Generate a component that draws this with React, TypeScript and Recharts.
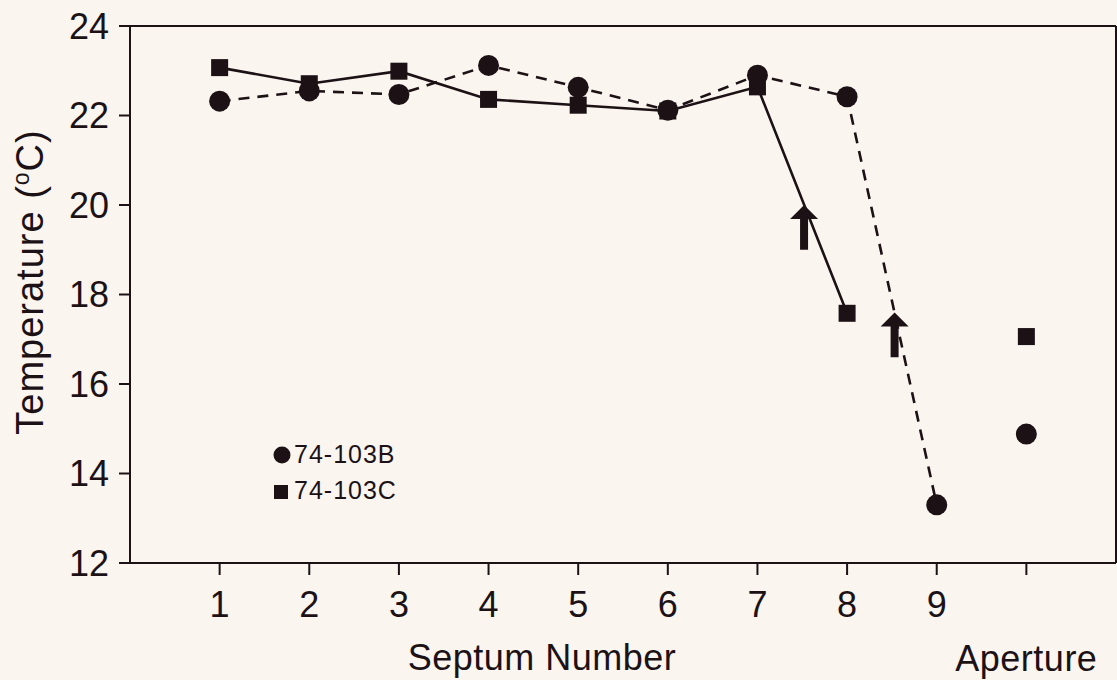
import React from 'react';
import { ComposedChart, Line, Scatter, XAxis, YAxis, ReferenceLine, Legend } from 'recharts';

const septa = [1, 2, 3, 4, 5, 6, 7, 8, 9];
const tempB = [22.32, 22.55, 22.47, 23.12, 22.63, 22.12, 22.9, 22.42, 13.3];
const tempC = [23.07, 22.71, 22.99, 22.36, 22.23, 22.1, 22.64, 17.58, null];
const apertureX = 10;
const apertureB = [14.88];
const apertureC = [17.06];
const xTicks = [1, 2, 3, 4, 5, 6, 7, 8, 9, 10];
const yTicks = [12, 14, 16, 18, 20, 22, 24];
const arrowX = [7.52, 8.53];
const arrowTop = [20.0, 17.6];
const arrowBottom = [19.0, 16.6];
const seriesNames = ['74-103B', '74-103C'];

const INK = '#1c1216';
const BG = '#faf5ef';
const FONT = '"Liberation Sans", Arial, Helvetica, sans-serif';

const lineData = septa.map((s, i) => ({ x: s, b: tempB[i], c: tempC[i] }));
const apBData = apertureB.map((v) => ({ x: apertureX, y: v }));
const apCData = apertureC.map((v) => ({ x: apertureX, y: v }));

const circleDot = (p: any) => {
  if (p.cx == null || p.cy == null || p.value == null) return <g key={`cb-${p.index}`} />;
  return <circle key={`cb-${p.index}`} cx={p.cx} cy={p.cy} r={10.5} fill={INK} />;
};
const squareDot = (p: any) => {
  if (p.cx == null || p.cy == null || p.value == null) return <g key={`sc-${p.index}`} />;
  return <rect key={`sc-${p.index}`} x={p.cx - 8.5} y={p.cy - 8.5} width={17} height={17} fill={INK} />;
};

const XTick = (props: any) => {
  const { x, y, payload } = props;
  if (payload.value === 10) {
    return (
      <text x={x} y={y + 94} textAnchor="middle" fill={INK} fontSize={36} fontFamily={FONT} letterSpacing={0.5}>
        Aperture
      </text>
    );
  }
  return (
    <text x={x} y={y + 40} textAnchor="middle" fill={INK} fontSize={36} fontFamily={FONT}>
      {payload.value}
    </text>
  );
};

const Arrow = (p: any) => {
  const x = p.x1;
  const yb = Math.max(p.y1, p.y2);
  const yt = Math.min(p.y1, p.y2);
  const hw = 14;
  const hh = 14;
  const sw = 4;
  const pts = [
    [x, yt],
    [x + hw, yt + hh],
    [x + sw, yt + hh],
    [x + sw, yb],
    [x - sw, yb],
    [x - sw, yt + hh],
    [x - hw, yt + hh],
  ]
    .map((q) => q.join(','))
    .join(' ');
  return <polygon points={pts} fill={INK} />;
};

const LegendContent = () => (
  <svg width={220} height={90}>
    <circle cx={22} cy={25} r={8.5} fill={INK} />
    <text x={34} y={33} fontSize={25} fill={INK} fontFamily={FONT} letterSpacing={1}>
      {seriesNames[0]}
    </text>
    <rect x={14} y={55} width={14} height={14} fill={INK} />
    <text x={34} y={69} fontSize={25} fill={INK} fontFamily={FONT} letterSpacing={1}>
      {seriesNames[1]}
    </text>
  </svg>
);

export default function App() {
  return (
    <div style={{ position: 'fixed', left: 0, top: 0, width: 1117, height: 680, background: BG }}>
      <ComposedChart width={1117} height={680} data={lineData} margin={{ top: 26, right: 1, left: 0, bottom: 0 }}>
        <XAxis
          dataKey="x"
          type="number"
          domain={[0, 11]}
          ticks={xTicks}
          interval={0}
          allowDataOverflow
          height={117}
          tickSize={12}
          tickMargin={2}
          tick={<XTick />}
          axisLine={{ stroke: INK, strokeWidth: 2 }}
          tickLine={{ stroke: INK, strokeWidth: 2 }}
          label={{
            content: () => (
              <text x={542} y={670} textAnchor="middle" fill={INK} fontSize={36} fontFamily={FONT} letterSpacing={0.5}>
                Septum Number
              </text>
            ),
          }}
        />
        <YAxis
          type="number"
          domain={[12, 24]}
          ticks={yTicks}
          interval={0}
          allowDataOverflow
          width={130}
          tickSize={11}
          tickMargin={10}
          tick={{ fill: INK, fontSize: 36, fontFamily: FONT }}
          axisLine={{ stroke: INK, strokeWidth: 2 }}
          tickLine={{ stroke: INK, strokeWidth: 2 }}
          label={{
            content: () => (
              <text
                x={43}
                y={282}
                transform="rotate(-90, 43, 282)"
                textAnchor="middle"
                fill={INK}
                fontSize={38}
                fontFamily={FONT}
                letterSpacing={1}
              >
                Temperature (
                <tspan fontSize={23} dy={-14}>o</tspan>
                <tspan dy={14}>C)</tspan>
              </text>
            ),
          }}
        />
        <ReferenceLine y={24} stroke={INK} strokeWidth={2} />
        <ReferenceLine x={11} stroke={INK} strokeWidth={2} />
        {arrowX.map((ax, i) => (
          <ReferenceLine
            key={`arrow-${i}`}
            segment={[
              { x: ax, y: arrowBottom[i] },
              { x: ax, y: arrowTop[i] },
            ]}
            shape={Arrow}
          />
        ))}
        <Line
          dataKey="c"
          stroke={INK}
          strokeWidth={2.6}
          dot={squareDot}
          activeDot={false}
          isAnimationActive={false}
          connectNulls={false}
          legendType="none"
        />
        <Line
          dataKey="b"
          stroke={INK}
          strokeWidth={2.6}
          strokeDasharray="11 8"
          dot={circleDot}
          activeDot={false}
          isAnimationActive={false}
          legendType="none"
        />
        <Scatter
          data={apCData}
          dataKey="y"
          isAnimationActive={false}
          legendType="none"
          shape={(p: any) => <rect x={p.cx - 8.5} y={p.cy - 8.5} width={17} height={17} fill={INK} />}
        />
        <Scatter
          data={apBData}
          dataKey="y"
          isAnimationActive={false}
          legendType="none"
          shape={(p: any) => <circle cx={p.cx} cy={p.cy} r={10.5} fill={INK} />}
        />
        <Legend
          layout="vertical"
          align="center"
          verticalAlign="middle"
          content={<LegendContent />}
          wrapperStyle={{ left: 260, top: 430, width: 220, height: 90 }}
        />
      </ComposedChart>
    </div>
  );
}
